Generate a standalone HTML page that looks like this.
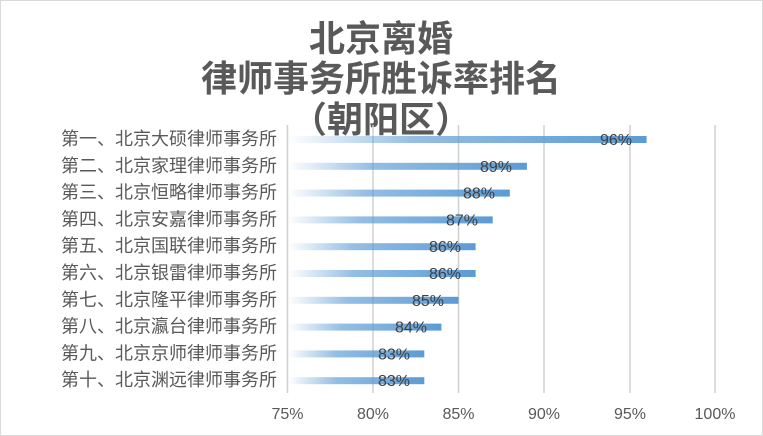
<!DOCTYPE html>
<html><head><meta charset="utf-8"><style>
html,body{margin:0;padding:0;background:#fff}
svg{display:block}
text{font-family:"Liberation Sans","Noto Sans CJK SC",sans-serif}
</style></head><body>
<svg width="763" height="436" viewBox="0 0 763 436">
<defs>
<linearGradient id="g" x1="0" x2="1" y1="0" y2="0">
<stop offset="0" stop-color="#5b9bd5" stop-opacity="0"/>
<stop offset="0.35" stop-color="#5b9bd5" stop-opacity="0.65"/>
<stop offset="1" stop-color="#5b9bd5" stop-opacity="1"/>
</linearGradient>
</defs>
<rect x="0.5" y="0.5" width="762" height="435" fill="#fff" stroke="#d9d9d9"/>
<g fill="#595959" font-size="36" text-anchor="middle" font-weight="bold">
<text x="381" y="51">北京离婚</text>
<text x="381" y="91">律师事务所胜诉率排名</text>
<text x="381" y="132">（朝阳区）</text>
</g>
<g stroke="#d0d0d0" stroke-width="1.5">
<line x1="287.5" y1="125" x2="287.5" y2="393"/>
<line x1="373" y1="125" x2="373" y2="393"/>
<line x1="458.5" y1="125" x2="458.5" y2="393"/>
<line x1="544" y1="125" x2="544" y2="393"/>
<line x1="630" y1="125" x2="630" y2="393"/>
<line x1="715" y1="125" x2="715" y2="393"/>
</g>
<g>
<rect x="288" y="136" width="358.6" height="7" fill="url(#g)"/>
<rect x="288" y="162.8" width="238.9" height="7" fill="url(#g)"/>
<rect x="288" y="189.6" width="221.8" height="7" fill="url(#g)"/>
<rect x="288" y="216.4" width="204.7" height="7" fill="url(#g)"/>
<rect x="288" y="243.2" width="187.6" height="7" fill="url(#g)"/>
<rect x="288" y="270" width="187.6" height="7" fill="url(#g)"/>
<rect x="288" y="296.8" width="170.5" height="7" fill="url(#g)"/>
<rect x="288" y="323.6" width="153.4" height="7" fill="url(#g)"/>
<rect x="288" y="350.4" width="136.3" height="7" fill="url(#g)"/>
<rect x="288" y="377.2" width="136.3" height="7" fill="url(#g)"/>
</g>
<g font-size="16" fill="#404040" text-anchor="middle">
<text x="616" y="145">96%</text>
<text x="496" y="171.8">89%</text>
<text x="479" y="198.6">88%</text>
<text x="462" y="225.4">87%</text>
<text x="445" y="252.2">86%</text>
<text x="445" y="279">86%</text>
<text x="428" y="305.8">85%</text>
<text x="411" y="332.6">84%</text>
<text x="394" y="359.4">83%</text>
<text x="394" y="386.2">83%</text>
</g>
<g font-size="18" fill="#595959" text-anchor="end">
<text x="277" y="145">第一、北京大硕律师事务所</text>
<text x="277" y="171.8">第二、北京家理律师事务所</text>
<text x="277" y="198.6">第三、北京恒略律师事务所</text>
<text x="277" y="225.4">第四、北京安嘉律师事务所</text>
<text x="277" y="252.2">第五、北京国联律师事务所</text>
<text x="277" y="279">第六、北京银雷律师事务所</text>
<text x="277" y="305.8">第七、北京隆平律师事务所</text>
<text x="277" y="332.6">第八、北京瀛台律师事务所</text>
<text x="277" y="359.4">第九、北京京师律师事务所</text>
<text x="277" y="386.2">第十、北京渊远律师事务所</text>
</g>
<g fill="#595959" font-size="16" text-anchor="middle">
<text x="287.5" y="419">75%</text><text x="373" y="419">80%</text><text x="458.5" y="419">85%</text>
<text x="544" y="419">90%</text><text x="630" y="419">95%</text><text x="715" y="419">100%</text>
</g>
</svg>
</body></html>
